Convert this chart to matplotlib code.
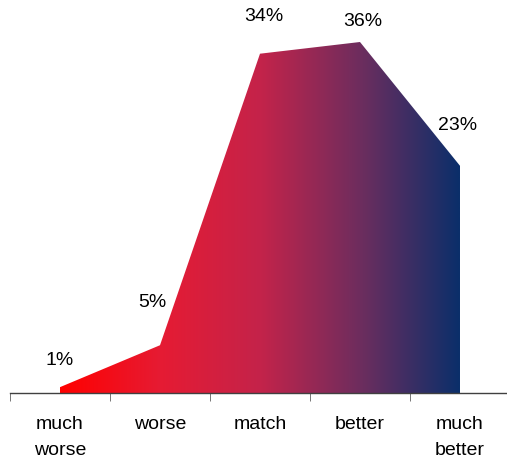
import numpy as np
import matplotlib
matplotlib.use('Agg')
import matplotlib.pyplot as plt
from matplotlib.colors import LinearSegmentedColormap
from matplotlib.patches import Polygon

categories = ['much\nworse', 'worse', 'match', 'better', 'much\nbetter']
values = [0.6, 4.9, 34.8, 36.0, 23.3]
labels = ['1%', '5%', '34%', '36%', '23%']
label_dx = [0, -8, 4, 3, -2]       # px
label_dy = [28, 44, 38, 21, 41]    # px above each point

plt.rcParams['font.family'] = ['Liberation Sans', 'DejaVu Sans']

fig = plt.figure(figsize=(5.07, 4.64), dpi=100)
ax = fig.add_axes([10 / 507, 70 / 464, 500 / 507, 394 / 464])

x = np.arange(len(values))
ax.set_xlim(-0.5, 4.5)
ax.set_ylim(0, 394 / 9.75)

cmap = LinearSegmentedColormap.from_list('rb', [
    (0.0, '#ff0000'), (0.25, '#e61b33'), (0.5, '#c4234a'),
    (0.75, '#6e2d5e'), (1.0, '#0b2f6a')])
grad = np.linspace(0, 1, 256).reshape(1, -1)
img = ax.imshow(grad, cmap=cmap, aspect='auto', extent=[x[0], x[-1], 0, max(values)],
                origin='lower', zorder=2)
verts = [(x[0], 0)] + list(zip(x, values)) + [(x[-1], 0)]
poly = Polygon(verts, closed=True, facecolor='none', edgecolor='none')
ax.add_patch(poly)
img.set_clip_path(poly)

for xi, v, lab, dx, dy in zip(x, values, labels, label_dx, label_dy):
    ax.annotate(lab, (xi, v), xytext=(dx * 0.72, dy * 0.72), textcoords='offset points',
                ha='center', va='center', fontsize=14, color='black')

for s in ['left', 'right', 'top']:
    ax.spines[s].set_visible(False)
ax.spines['bottom'].set_color('#404040')
ax.spines['bottom'].set_linewidth(1.0)
ax.set_yticks([])
ax.set_xticks(x)
ax.set_xticklabels(categories, fontsize=14)
for t in ax.get_xticklabels():
    t.set_linespacing(1.65)
ax.set_xticks(np.arange(-0.5, 5, 1), minor=True)
ax.tick_params(axis='x', which='major', length=0, pad=16)
ax.tick_params(axis='x', which='minor', length=6, color='#606060', direction='out')

fig.savefig('out.png', dpi=100)
